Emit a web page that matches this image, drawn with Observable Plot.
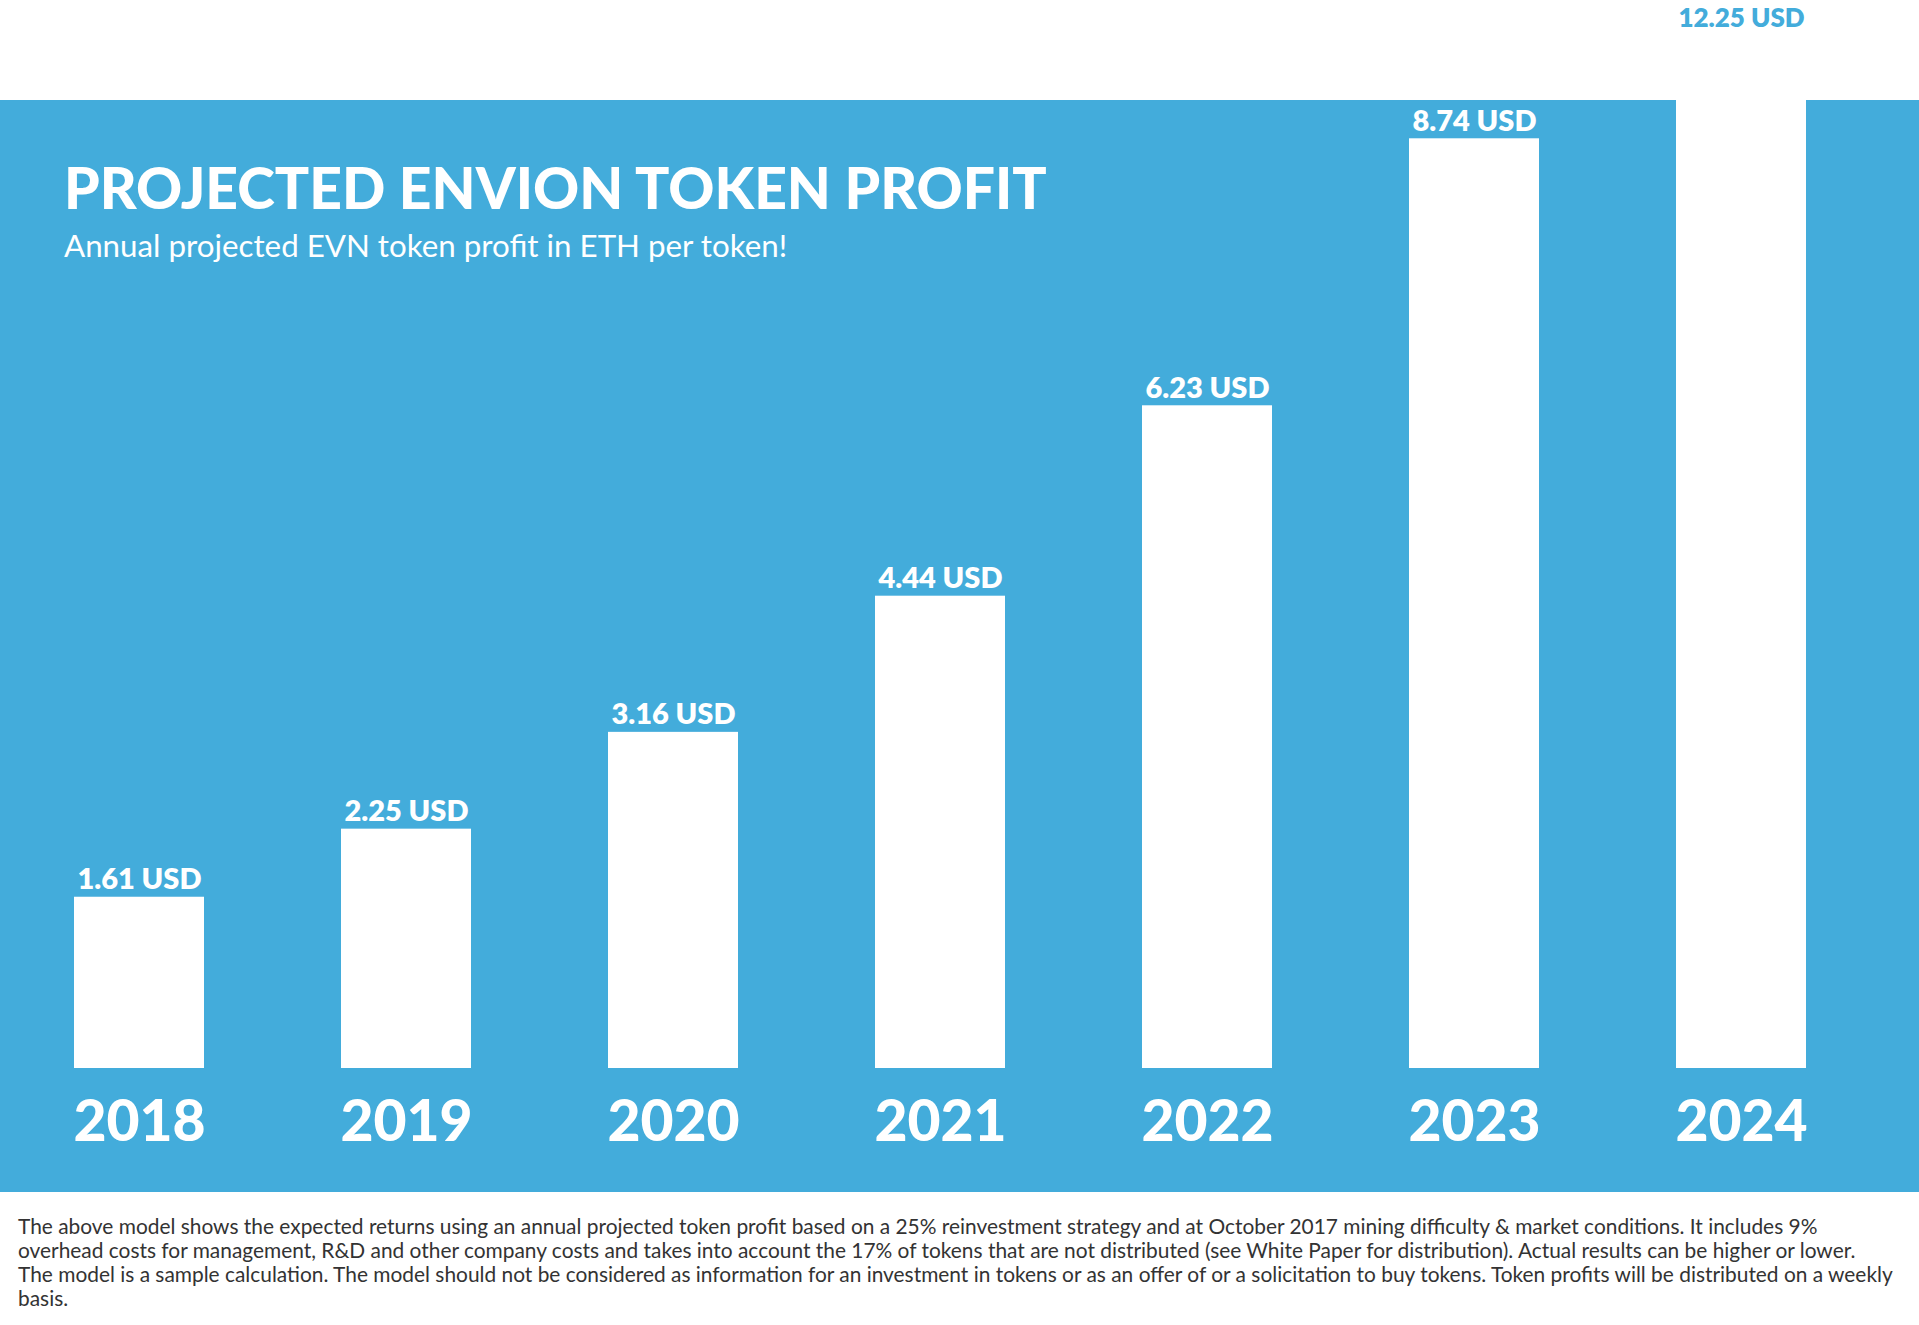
<!DOCTYPE html>
<html>
<head>
<meta charset="utf-8">
<script src="https://cdn.jsdelivr.net/npm/d3@7"></script>
<script src="https://cdn.jsdelivr.net/npm/@observablehq/plot@0.6"></script>
<style>
  html, body { margin: 0; padding: 0; background: #ffffff; }
  #wrap { position: relative; width: 1919px; font-family: Lato, "Open Sans", sans-serif; }
  #title { position: absolute; left: 64px; top: 153px; margin: 0; font-size: 57px; line-height: 1.2; font-weight: 900; color: #ffffff; white-space: nowrap; }
  #subtitle { position: absolute; left: 64px; top: 227px; margin: 0; font-size: 31.3px; line-height: 1.2; font-weight: 400; color: #ffffff; white-space: nowrap; }
  #note { margin: 22px 0 0 18px; width: 1896px; font-size: 20.9px; line-height: 24px; color: #333333; white-space: nowrap; }
  #chart svg { display: block; }
</style>
</head>
<body>
<div id="wrap">
  <div id="chart"></div>
  <div id="title">PROJECTED ENVION TOKEN PROFIT</div>
  <div id="subtitle">Annual projected EVN token profit in ETH per token!</div>
  <div id="note">The above model shows the expected returns using an annual projected token profit based on a 25% reinvestment strategy and at October 2017 mining difficulty &amp; market conditions. It includes 9%<br>overhead costs for management, R&amp;D and other company costs and takes into account the 17% of tokens that are not distributed (see White Paper for distribution). Actual results can be higher or lower.<br>The model is a sample calculation. The model should not be considered as information for an investment in tokens or as an offer of or a solicitation to buy tokens. Token profits will be distributed on a weekly<br>basis.</div>
</div>
<script>
const years = ["2018", "2019", "2020", "2021", "2022", "2023", "2024"];
const profits = [1.61, 2.25, 3.16, 4.44, 6.23, 8.74, 12.25];
const unit = "USD";

const blue = "#43acdb";
const yMax = 9.1;

const data = years.map((year, i) => ({year, value: profits[i], label: `${profits[i].toFixed(2)} ${unit}`}));
const inside = data.filter(d => d.value <= yMax);
const overflow = data.filter(d => d.value > yMax);

const chart = Plot.plot({
  width: 1919,
  height: 1192,
  marginTop: 100,
  marginBottom: 124,
  marginLeft: 0,
  marginRight: 39,
  style: {
    fontFamily: "Lato, sans-serif",
    background: `linear-gradient(to bottom, #ffffff 0px, #ffffff 100px, ${blue} 100px, ${blue} 100%)`
  },
  x: {domain: years, paddingInner: 0.514, paddingOuter: 0.269, label: null},
  y: {domain: [0, yMax], axis: null},
  marks: [
    Plot.barY(data, {x: "year", y: "value", fill: "#ffffff", clip: true}),
    Plot.text(inside, {x: "year", y: "value", text: "label", dy: -8, lineAnchor: "bottom", fill: "#ffffff", fontSize: 29, fontWeight: 800}),
    Plot.text(overflow, {x: "year", text: "label", frameAnchor: "top", dy: -74, lineAnchor: "bottom", fill: blue, fontSize: 26, fontWeight: 800}),
    Plot.axisX({tickSize: 0, tickPadding: 32, fontSize: 57, fontWeight: 900, fill: "#ffffff", label: null})
  ]
});
document.getElementById("chart").appendChild(chart);
</script>
</body>
</html>
